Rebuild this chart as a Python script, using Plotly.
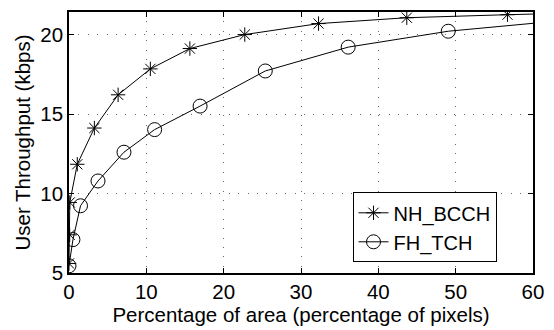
import plotly.graph_objects as go

# NH_BCCH series
nh_x = [0.0, 0.09, 0.1, 1.07, 3.28, 6.35, 10.52, 15.63, 22.73, 32.27, 43.68, 56.7, 70.0]
nh_y = [5.6, 7.4, 9.44, 11.84, 14.12, 16.21, 17.84, 19.12, 20.0, 20.69, 21.06, 21.25, 21.41]
# FH_TCH series
fh_x = [0.0, 0.51, 1.49, 3.75, 7.11, 11.07, 16.95, 25.38, 36.1, 49.04, 64.0]
fh_y = [5.45, 7.1, 9.23, 10.79, 12.6, 14.02, 15.5, 17.71, 19.21, 20.21, 20.89]

x_ticks = [0, 10, 20, 30, 40, 50, 60]
y_ticks = [5, 10, 15, 20]

font = "Liberation Sans, Arial, Helvetica, sans-serif"
fs = 20.5

fig = go.Figure()
fig.add_trace(go.Scatter(x=nh_x, y=nh_y, mode="lines+markers", name="NH_BCCH",
                         line=dict(color="black", width=1),
                         marker=dict(symbol="asterisk-open", size=12, color="black",
                                     line=dict(color="black", width=1))))
fig.add_trace(go.Scatter(x=fh_x, y=fh_y, mode="lines+markers", name="FH_TCH",
                         line=dict(color="black", width=1),
                         marker=dict(symbol="circle-open", size=14, color="black",
                                     line=dict(color="black", width=1))))

axis_common = dict(showline=True, linecolor="black", linewidth=1.5, mirror="ticks",
                   ticks="inside", ticklen=5, tickcolor="black",
                   showgrid=True, gridcolor="#666", griddash="1px,8.4px", gridwidth=1,
                   zeroline=False, tickfont=dict(family=font, size=fs, color="black"))

fig.update_xaxes(range=[0, 60], tickvals=x_ticks,
                 title=dict(text="Percentage of area (percentage of pixels)",
                            font=dict(family=font, size=fs, color="black"), standoff=2),
                 **axis_common)
fig.update_yaxes(range=[5, 21.42], tickvals=y_ticks,
                 title=dict(text="User Throughput (kbps)",
                            font=dict(family=font, size=fs, color="black"), standoff=4),
                 **axis_common)

fig.update_layout(width=554, height=330, margin=dict(l=69, r=15, t=10, b=57),
                  paper_bgcolor="white", plot_bgcolor="white",
                  font=dict(family=font, size=fs, color="black"),
                  legend=dict(x=0.611, y=0.041, xanchor="left", yanchor="bottom",
                              bgcolor="white", bordercolor="black", borderwidth=1,
                              font=dict(family=font, size=20, color="black"),
                              tracegroupgap=0, itemwidth=30))

fig.write_html("out.html")
